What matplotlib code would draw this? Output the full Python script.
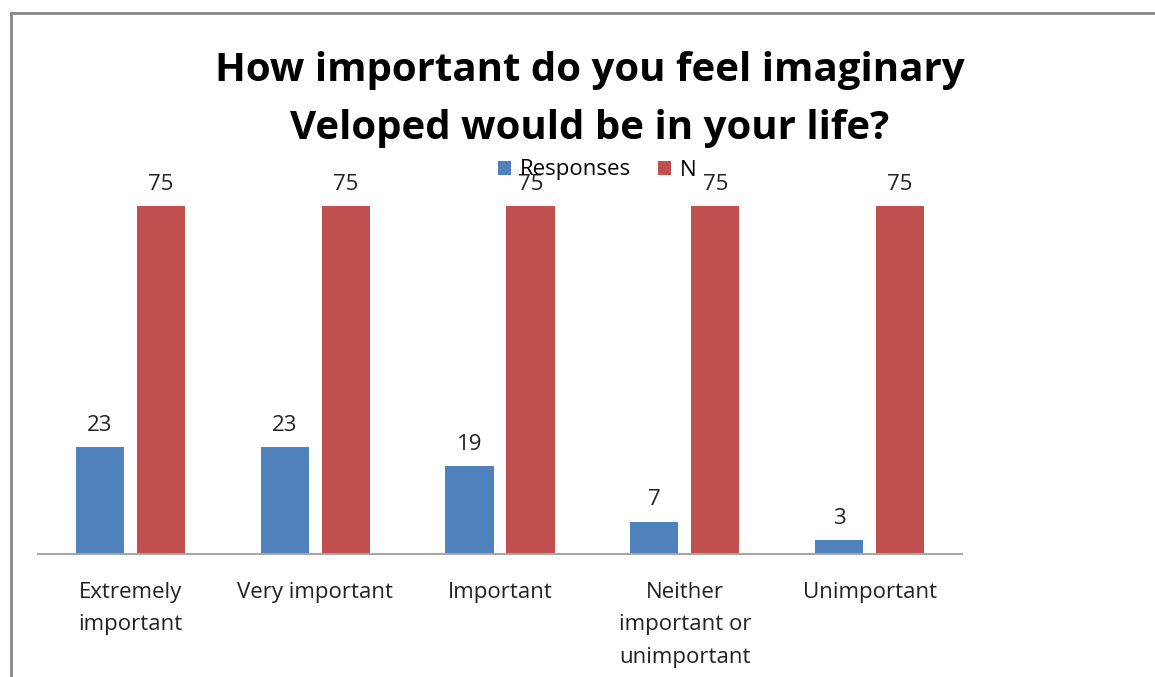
import matplotlib
matplotlib.use("Agg")
import matplotlib.pyplot as plt
import numpy as np

categories = ["Extremely\nimportant", "Very important", "Important",
              "Neither\nimportant or\nunimportant", "Unimportant"]
responses = [23, 23, 19, 7, 3]
n_values = [75, 75, 75, 75, 75]
title = "How important do you feel imaginary\nVeloped would be in your life?"

blue = "#4F81BD"
red = "#C0504D"

plt.rcParams['font.family'] = ['Open Sans', 'DejaVu Sans']

fig = plt.figure(figsize=(11.55, 6.77), dpi=100)
ax = fig.add_axes([38/1155, 1-554/677, (962-38)/1155, (554-183)/677])

x = np.arange(len(categories))
w = 0.26
off = 0.165
b1 = ax.bar(x - off, responses, w, color=blue, label="Responses")
b2 = ax.bar(x + off, n_values, w, color=red, label="N")

for bars, vals in ((b1, responses), (b2, n_values)):
    for b, v in zip(bars, vals):
        ax.annotate(str(v), (b.get_x() + b.get_width()/2, v),
                    xytext=(0, 8), textcoords="offset points",
                    ha="center", va="bottom", fontsize=16, color="#222222")

ax.set_xlim(-0.5, len(categories) - 0.5)
ax.set_ylim(0, 80)
ax.set_yticks([])
ax.set_xticks(x)
ax.set_xticklabels(categories, fontsize=16, color="#222222", linespacing=1.73)
ax.tick_params(axis="x", length=0, pad=20)
for s in ("top", "right", "left"):
    ax.spines[s].set_visible(False)
ax.spines["bottom"].set_color("#A6A6A6")
ax.spines["bottom"].set_linewidth(1.5)

fig.text(590/1155, 1-99.5/677, title, ha="center", va="center",
         fontsize=29, fontweight="bold", linespacing=1.6,
         family=['Open Sans', 'DejaVu Sans'])

leg = fig.legend(handles=[b1, b2], loc="center", bbox_to_anchor=(597/1155, 1-170/677),
                 ncol=2, frameon=False, fontsize=16, handlelength=0.6,
                 handleheight=0.6, handletextpad=0.4, columnspacing=1.2)

# outer border (top and left lines)
fig.add_artist(plt.Line2D([11/1155, 1], [1-13/677, 1-13/677], color="#868686", lw=2,
                          transform=fig.transFigure))
fig.add_artist(plt.Line2D([11/1155, 11/1155], [0, 1-13/677], color="#868686", lw=2,
                          transform=fig.transFigure))

fig.savefig("out.png", dpi=100)
